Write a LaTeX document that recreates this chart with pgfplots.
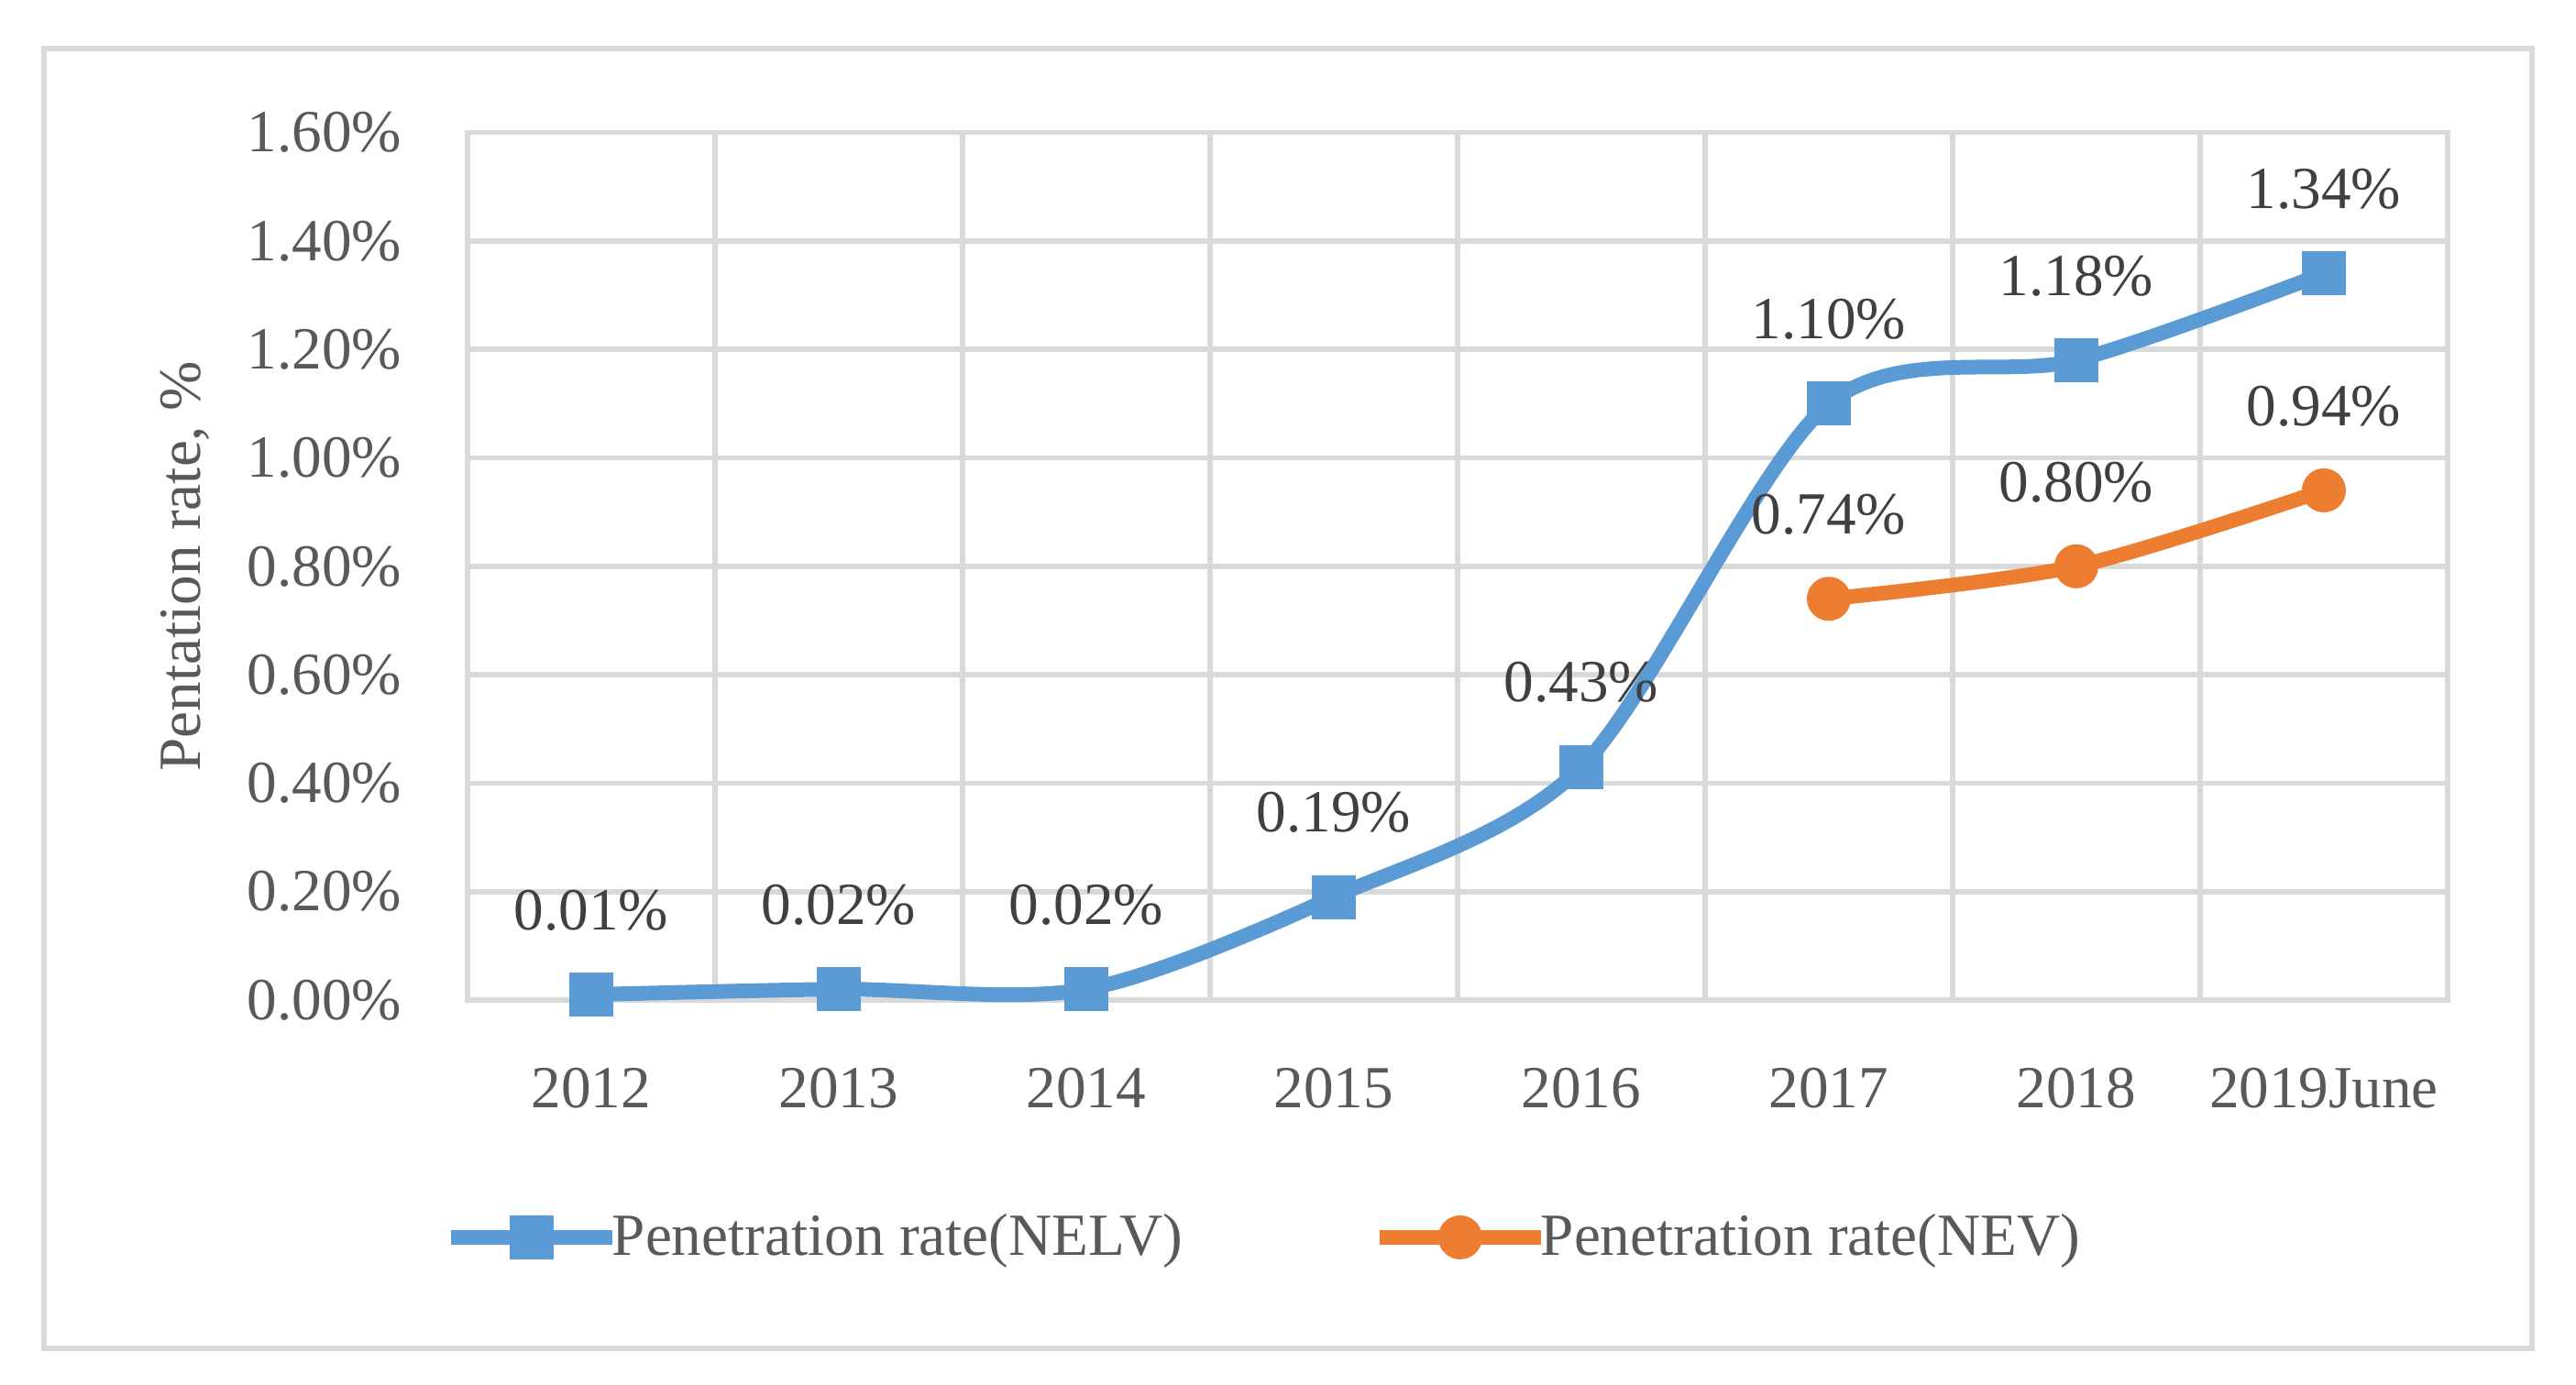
\documentclass[border=0pt]{standalone}
\usepackage{fontspec}
\setmainfont{Liberation Serif}
\usepackage{pgfplots}
\pgfplotsset{compat=1.18}
\definecolor{nelv}{HTML}{5B9BD5}
\definecolor{nev}{HTML}{ED7D31}
\definecolor{gridgray}{HTML}{D9D9D9}
\definecolor{ticktext}{HTML}{595959}
\definecolor{labeltext}{HTML}{404040}
\newcommand{\chartfont}{\fontsize{16.3pt}{19.5pt}\selectfont}

\begin{document}
\begin{tikzpicture}
\begin{axis}[
  at={(0pt,0pt)}, anchor=south west,
  scale only axis, width=540pt, height=236.6pt,
  xmin=-0.5, xmax=7.5, ymin=0, ymax=1.6,
  xtick={0,1,2,3,4,5,6,7},
  xticklabels={2012,2013,2014,2015,2016,2017,2018,2019June},
  minor xtick={0.5,1.5,2.5,3.5,4.5,5.5,6.5},
  ytick={0,0.2,0.4,0.6,0.8,1.0,1.2,1.4,1.6},
  /pgf/number format/assume math mode=true,
  yticklabel={\pgfmathprintnumber[fixed,fixed zerofill,precision=2]{\tick}\%},
  ymajorgrids, xminorgrids,
  grid style={gridgray, line width=1.4pt},
  minor grid style={gridgray, line width=1.4pt},
  axis line style={gridgray, line width=1.4pt},
  tick style={draw=none}, minor tick style={draw=none},
  xticklabel style={anchor=base, inner sep=0pt, yshift=-29.3pt, font=\chartfont, text=ticktext},
  yticklabel style={anchor=east, inner sep=0pt, xshift=-17.75pt, font=\chartfont, text=ticktext},
  ylabel={Pentation rate, \%},
  every axis y label/.style={at={(axis description cs:0,0.5)}, xshift=-77pt, rotate=90, anchor=center, font=\chartfont, text=ticktext},
  clip=false,
  nodes near coords={\pgfmathprintnumber[fixed,fixed zerofill,precision=2]{\pgfplotspointmeta}\%},
  every node near coord/.append style={anchor=center, yshift=23pt, font=\chartfont, text=labeltext},
  legend columns=2,
  legend style={at={(rel axis cs:-0.0125,-0.2736)}, anchor=west, draw=none, fill=none,
    inner xsep=0pt, font=\chartfont, text=ticktext,
    /tikz/every even column/.append style={column sep=49.7pt}},
  legend image code/.code={\draw[mark repeat=2, mark phase=2, #1] plot coordinates {(0pt,0pt) (22pt,0pt) (44pt,0pt)};},
]
\addplot[nelv, line width=4pt, smooth, mark=square*, mark size=5.8pt, mark options={line width=0.4pt}]
  coordinates {(0,0.01) (1,0.02) (2,0.02) (3,0.19) (4,0.43) (5,1.10) (6,1.18) (7,1.34)};
\addlegendentry{\hspace{-4pt}Penetration rate(NELV)}
\addplot[nev, line width=4pt, smooth, mark=*, mark size=5.8pt, mark options={line width=0.4pt}]
  coordinates {(5,0.74) (6,0.80) (7,0.94)};
\addlegendentry{\hspace{-4pt}Penetration rate(NEV)}
\end{axis}
\draw[gridgray, line width=1.5pt] (-115.5pt,-95pt) rectangle (563pt,259.4pt);
\path (-127.5pt,-105pt) rectangle (575pt,272.75pt);
\end{tikzpicture}
\end{document}
